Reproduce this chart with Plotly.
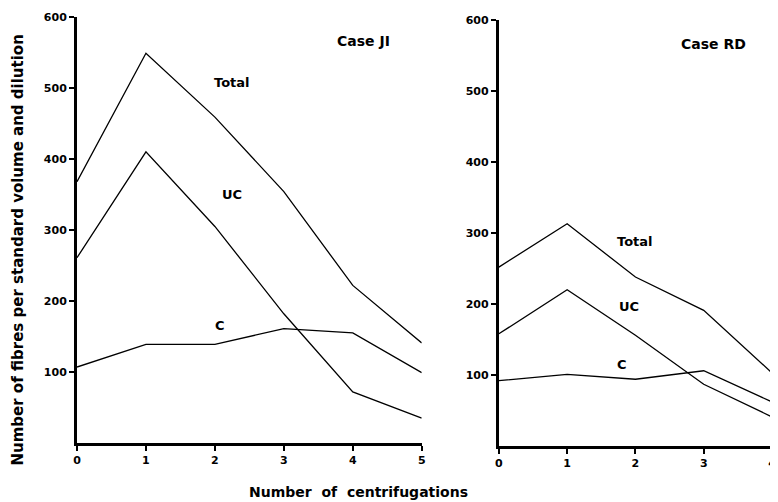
import plotly.graph_objects as go

# Case JI
x_ji = [0, 1, 2, 3, 4, 5]
total_ji = [368, 549, 459, 354, 222, 141]
uc_ji = [261, 410, 305, 182, 72, 35]
c_ji = [107, 139, 139, 161, 155, 99]

# Case RD
x_rd = [0, 1, 2, 3, 4]
total_rd = [252, 313, 238, 191, 103]
uc_rd = [158, 220, 156, 87, 41]
c_rd = [92, 101, 94, 106, 62]

y_ticks = [100, 200, 300, 400, 500, 600]

FONT = "DejaVu Sans"
line = dict(color="black", width=1.3)

fig = go.Figure()
for ys, name in [(total_ji, "Total"), (uc_ji, "UC"), (c_ji, "C")]:
    fig.add_trace(go.Scatter(x=x_ji, y=ys, mode="lines", line=line, name=name,
                             xaxis="x", yaxis="y", showlegend=False))
for ys, name in [(total_rd, "Total"), (uc_rd, "UC"), (c_rd, "C")]:
    fig.add_trace(go.Scatter(x=x_rd, y=ys, mode="lines", line=line, name=name,
                             xaxis="x2", yaxis="y2", showlegend=False))

axis_common = dict(showline=True, linecolor="black", linewidth=3, showgrid=False,
                   zeroline=False, ticks="outside", tickcolor="black", tickwidth=2,
                   ticklen=5, tickfont=dict(family=FONT, size=11, color="black", weight="bold"))

fig.update_layout(
    width=770, height=494,
    margin=dict(l=69, r=2, t=9, b=56),
    paper_bgcolor="white", plot_bgcolor="white",
    xaxis=dict(domain=[0, 0.496], range=[0, 5], tickvals=x_ji, anchor="y", **axis_common),
    yaxis=dict(domain=[0.007, 1], range=[0, 600], tickvals=y_ticks, anchor="x", **axis_common),
    xaxis2=dict(domain=[0.607, 1], range=[0, 4], tickvals=x_rd, anchor="y2", **axis_common),
    yaxis2=dict(domain=[0, 0.993], range=[0, 600], tickvals=y_ticks, anchor="x2", **axis_common),
)

labfont = dict(family=FONT, size=13, color="black", weight="bold")
casefont = dict(family=FONT, size=14, color="black", weight="bold")
anns = [
    dict(x=4.15, y=566, xref="x", yref="y", text="Case JI", font=casefont),
    dict(x=2.25, y=508, xref="x", yref="y", text="Total", font=labfont),
    dict(x=2.25, y=350, xref="x", yref="y", text="UC", font=labfont),
    dict(x=2.08, y=165, xref="x", yref="y", text="C", font=labfont),
    dict(x=3.15, y=566, xref="x2", yref="y2", text="Case RD", font=casefont),
    dict(x=1.99, y=288, xref="x2", yref="y2", text="Total", font=labfont),
    dict(x=1.9, y=197, xref="x2", yref="y2", text="UC", font=labfont),
    dict(x=1.8, y=115, xref="x2", yref="y2", text="C", font=labfont),
    dict(x=-0.0855, y=0.457, xref="paper", yref="paper", text="Number of fibres per standard volume and dilution",
         textangle=-90, font=dict(family=FONT, size=15, color="black", weight="bold")),
    dict(x=0.405, y=-0.107, xref="paper", yref="paper", text="Number  of  centrifugations",
         font=dict(family=FONT, size=14, color="black", weight="bold")),
]
for a in anns:
    a.update(showarrow=False, xanchor="center", yanchor="middle")
fig.update_layout(annotations=anns)

fig.write_html("out.html")
